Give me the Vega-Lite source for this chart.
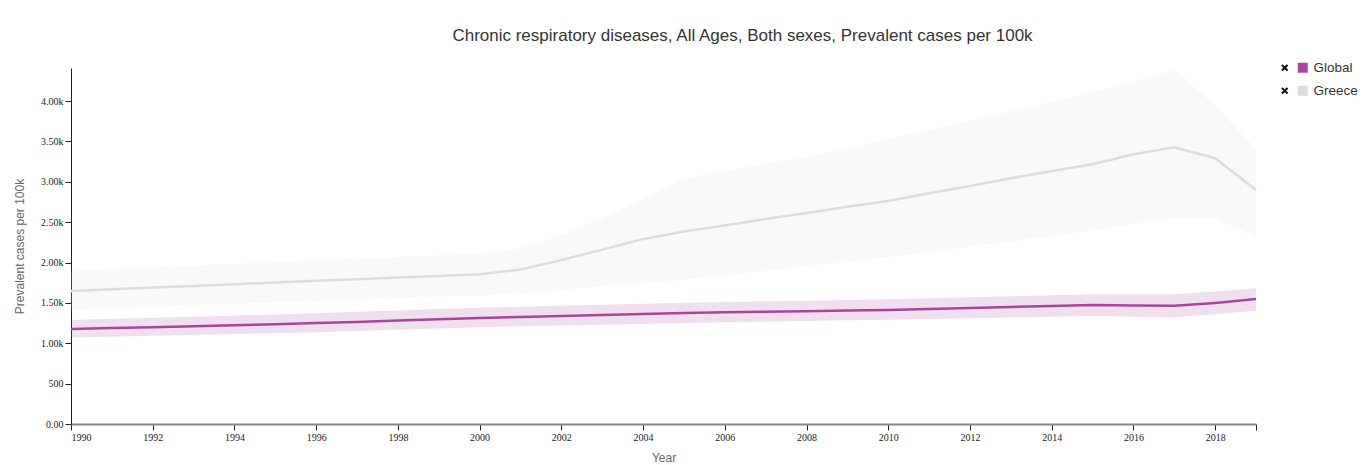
{
  "$schema": "https://vega.github.io/schema/vega-lite/v6.json",
  "width": 1185,
  "height": 356,
  "autosize": {"type": "none"},
  "padding": {"left": 71, "top": 68, "right": 113, "bottom": 41},
  "background": "white",
  "title": {
    "text": "Chronic respiratory diseases, All Ages, Both sexes, Prevalent cases per 100k",
    "font": "Liberation Sans",
    "fontSize": 17,
    "fontWeight": "normal",
    "color": "#333333",
    "anchor": "middle",
    "frame": "group",
    "dx": 79,
    "offset": 16
  },
  "config": {
    "view": {"stroke": null},
    "axis": {"grid": false}
  },
  "datasets": {
    "series": [
      {"location": "Global", "year": 1990, "val": 1177, "lower": 1070, "upper": 1289},
      {"location": "Global", "year": 1991, "val": 1190, "lower": 1082, "upper": 1303},
      {"location": "Global", "year": 1992, "val": 1200, "lower": 1093, "upper": 1316},
      {"location": "Global", "year": 1993, "val": 1212, "lower": 1104, "upper": 1330},
      {"location": "Global", "year": 1994, "val": 1223, "lower": 1115, "upper": 1343},
      {"location": "Global", "year": 1995, "val": 1236, "lower": 1126, "upper": 1357},
      {"location": "Global", "year": 1996, "val": 1250, "lower": 1138, "upper": 1372},
      {"location": "Global", "year": 1997, "val": 1265, "lower": 1152, "upper": 1390},
      {"location": "Global", "year": 1998, "val": 1282, "lower": 1167, "upper": 1407},
      {"location": "Global", "year": 1999, "val": 1298, "lower": 1184, "upper": 1424},
      {"location": "Global", "year": 2000, "val": 1313, "lower": 1200, "upper": 1440},
      {"location": "Global", "year": 2001, "val": 1326, "lower": 1210, "upper": 1452},
      {"location": "Global", "year": 2002, "val": 1338, "lower": 1220, "upper": 1464},
      {"location": "Global", "year": 2003, "val": 1350, "lower": 1230, "upper": 1476},
      {"location": "Global", "year": 2004, "val": 1362, "lower": 1240, "upper": 1490},
      {"location": "Global", "year": 2005, "val": 1375, "lower": 1252, "upper": 1502},
      {"location": "Global", "year": 2006, "val": 1383, "lower": 1260, "upper": 1511},
      {"location": "Global", "year": 2007, "val": 1390, "lower": 1268, "upper": 1519},
      {"location": "Global", "year": 2008, "val": 1398, "lower": 1276, "upper": 1528},
      {"location": "Global", "year": 2009, "val": 1405, "lower": 1284, "upper": 1536},
      {"location": "Global", "year": 2010, "val": 1413, "lower": 1292, "upper": 1545},
      {"location": "Global", "year": 2011, "val": 1425, "lower": 1301, "upper": 1557},
      {"location": "Global", "year": 2012, "val": 1437, "lower": 1310, "upper": 1569},
      {"location": "Global", "year": 2013, "val": 1450, "lower": 1319, "upper": 1582},
      {"location": "Global", "year": 2014, "val": 1462, "lower": 1328, "upper": 1594},
      {"location": "Global", "year": 2015, "val": 1475, "lower": 1338, "upper": 1607},
      {"location": "Global", "year": 2016, "val": 1468, "lower": 1330, "upper": 1606},
      {"location": "Global", "year": 2017, "val": 1464, "lower": 1322, "upper": 1607},
      {"location": "Global", "year": 2018, "val": 1500, "lower": 1360, "upper": 1640},
      {"location": "Global", "year": 2019, "val": 1547, "lower": 1404, "upper": 1681},
      {"location": "Greece", "year": 1990, "val": 1649, "lower": 1420, "upper": 1896},
      {"location": "Greece", "year": 1991, "val": 1670, "lower": 1438, "upper": 1917},
      {"location": "Greece", "year": 1992, "val": 1690, "lower": 1455, "upper": 1939},
      {"location": "Greece", "year": 1993, "val": 1711, "lower": 1473, "upper": 1960},
      {"location": "Greece", "year": 1994, "val": 1731, "lower": 1490, "upper": 1982},
      {"location": "Greece", "year": 1995, "val": 1752, "lower": 1508, "upper": 2003},
      {"location": "Greece", "year": 1996, "val": 1773, "lower": 1525, "upper": 2024},
      {"location": "Greece", "year": 1997, "val": 1793, "lower": 1543, "upper": 2046},
      {"location": "Greece", "year": 1998, "val": 1814, "lower": 1560, "upper": 2067},
      {"location": "Greece", "year": 1999, "val": 1834, "lower": 1578, "upper": 2089},
      {"location": "Greece", "year": 2000, "val": 1855, "lower": 1595, "upper": 2110},
      {"location": "Greece", "year": 2001, "val": 1915, "lower": 1620, "upper": 2177},
      {"location": "Greece", "year": 2002, "val": 2030, "lower": 1660, "upper": 2340},
      {"location": "Greece", "year": 2003, "val": 2160, "lower": 1710, "upper": 2550},
      {"location": "Greece", "year": 2004, "val": 2290, "lower": 1750, "upper": 2790},
      {"location": "Greece", "year": 2005, "val": 2385, "lower": 1784, "upper": 3040},
      {"location": "Greece", "year": 2006, "val": 2460, "lower": 1840, "upper": 3130},
      {"location": "Greece", "year": 2007, "val": 2540, "lower": 1900, "upper": 3220},
      {"location": "Greece", "year": 2008, "val": 2615, "lower": 1960, "upper": 3310},
      {"location": "Greece", "year": 2009, "val": 2690, "lower": 2015, "upper": 3410},
      {"location": "Greece", "year": 2010, "val": 2763, "lower": 2070, "upper": 3530},
      {"location": "Greece", "year": 2011, "val": 2858, "lower": 2130, "upper": 3640},
      {"location": "Greece", "year": 2012, "val": 2949, "lower": 2200, "upper": 3760},
      {"location": "Greece", "year": 2013, "val": 3044, "lower": 2260, "upper": 3870},
      {"location": "Greece", "year": 2014, "val": 3135, "lower": 2330, "upper": 3990},
      {"location": "Greece", "year": 2015, "val": 3218, "lower": 2400, "upper": 4110},
      {"location": "Greece", "year": 2016, "val": 3342, "lower": 2480, "upper": 4240},
      {"location": "Greece", "year": 2017, "val": 3428, "lower": 2555, "upper": 4387},
      {"location": "Greece", "year": 2018, "val": 3292, "lower": 2549, "upper": 3950},
      {"location": "Greece", "year": 2019, "val": 2900, "lower": 2320, "upper": 3404}
    ],
    "markers": [
      {"marker": "Global"},
      {"marker": "Greece"}
    ]
  },
  "layer": [
    {
      "data": {"name": "series"},
      "mark": {"type": "area", "fillOpacity": 0.17, "interpolate": "linear"},
      "encoding": {
        "x": {
          "field": "year",
          "type": "quantitative",
          "scale": {"domain": [1990, 2019], "nice": false, "zero": false},
          "axis": {
            "title": "Year",
            "values": [1990, 1992, 1994, 1996, 1998, 2000, 2002, 2004, 2006, 2008, 2010, 2012, 2014, 2016, 2018, 2019],
            "labelExpr": "datum.value == 2019 ? '' : format(datum.value, 'd')",
            "labelFont": "Liberation Serif",
            "labelFontSize": 10,
            "labelColor": "#222222",
            "labelPadding": 2,
            "tickColor": "#222222",
            "tickSize": 6,
            "domainColor": "#888888",
            "domainWidth": 2,
            "titleFont": "Liberation Sans",
            "titleFontSize": 12,
            "titleFontWeight": "normal",
            "titleColor": "#666666",
            "titlePadding": 10
          }
        },
        "y": {
          "field": "lower",
          "type": "quantitative",
          "scale": {"domain": [0, 4410], "nice": false},
          "axis": {
            "title": "Prevalent cases per 100k",
            "values": [0, 500, 1000, 1500, 2000, 2500, 3000, 3500, 4000],
            "format": ".3s",
            "labelFont": "Liberation Serif",
            "labelFontSize": 10,
            "labelColor": "#222222",
            "labelPadding": 2,
            "tickColor": "#222222",
            "tickSize": 6,
            "domainColor": "#222222",
            "domainWidth": 1,
            "titleFont": "Liberation Sans",
            "titleFontSize": 12,
            "titleFontWeight": "normal",
            "titleColor": "#666666",
            "titlePadding": 14
          }
        },
        "y2": {"field": "upper"},
        "color": {
          "field": "location",
          "type": "nominal",
          "scale": {"domain": ["Global", "Greece"], "range": ["#a8469e", "#dcdcdc"]},
          "legend": {
            "title": null,
            "orient": "none",
            "legendX": 1225,
            "legendY": -7,
            "symbolType": "square",
            "symbolSize": 100,
            "symbolOpacity": 1,
            "symbolStrokeWidth": 0,
            "labelFont": "Liberation Sans",
            "labelFontSize": 13.5,
            "labelColor": "#333333",
            "labelOffset": 4,
            "rowPadding": 8
          }
        }
      }
    },
    {
      "data": {"name": "series"},
      "mark": {"type": "line", "strokeWidth": 2.5, "interpolate": "linear"},
      "encoding": {
        "x": {"field": "year", "type": "quantitative"},
        "y": {"field": "val", "type": "quantitative"},
        "color": {"field": "location", "type": "nominal"}
      }
    },
    {
      "data": {"name": "markers"},
      "mark": {"type": "point", "opacity": 0, "filled": true, "color": "#111111"},
      "encoding": {
        "shape": {
          "field": "marker",
          "type": "nominal",
          "sort": null,
          "scale": {
            "range": [
              "M-1,-0.6L-0.6,-1L0,-0.4L0.6,-1L1,-0.6L0.4,0L1,0.6L0.6,1L0,0.4L-0.6,1L-1,0.6L-0.4,0Z",
              "M-1,-0.6L-0.6,-1L0,-0.4L0.6,-1L1,-0.6L0.4,0L1,0.6L0.6,1L0,0.4L-0.6,1L-1,0.6L-0.4,0Z"
            ]
          },
          "legend": {
            "title": null,
            "orient": "none",
            "legendX": 1207,
            "legendY": -7,
            "symbolSize": 50,
            "symbolOpacity": 1,
            "symbolFillColor": "#111111",
            "symbolStrokeColor": "#111111",
            "symbolStrokeWidth": 0,
            "labelExpr": "''",
            "labelFontSize": 13.5,
            "rowPadding": 8
          }
        }
      }
    }
  ]
}
